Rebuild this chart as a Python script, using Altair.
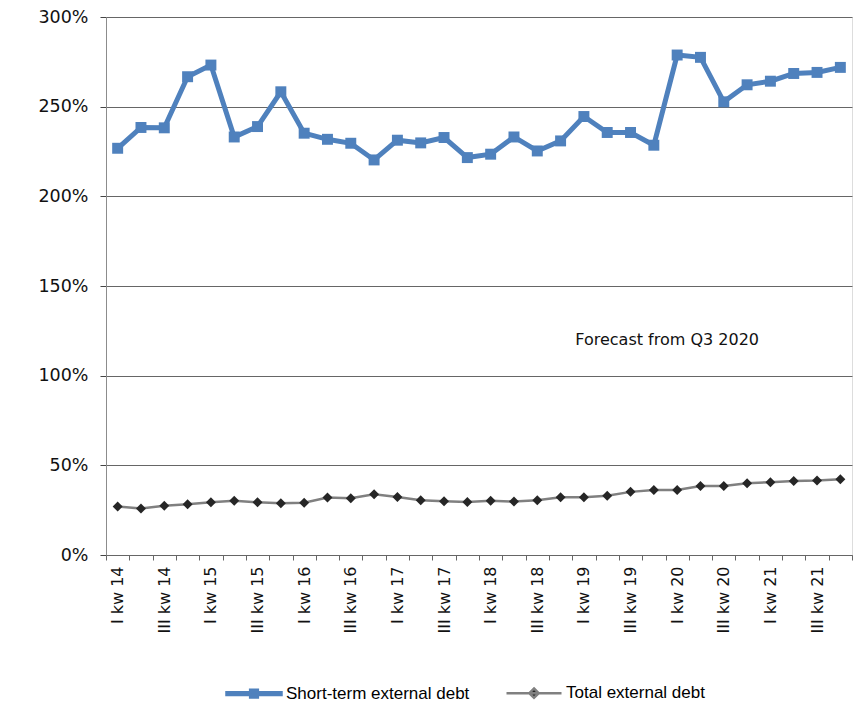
import altair as alt
import pandas as pd

quarters = [
    "I kw 14", "II kw 14", "III kw 14", "IV kw 14",
    "I kw 15", "II kw 15", "III kw 15", "IV kw 15",
    "I kw 16", "II kw 16", "III kw 16", "IV kw 16",
    "I kw 17", "II kw 17", "III kw 17", "IV kw 17",
    "I kw 18", "II kw 18", "III kw 18", "IV kw 18",
    "I kw 19", "II kw 19", "III kw 19", "IV kw 19",
    "I kw 20", "II kw 20", "III kw 20", "IV kw 20",
    "I kw 21", "II kw 21", "III kw 21", "IV kw 21",
]
short_term = [226.8, 238.4, 238.2, 266.7, 273.2, 233.1, 238.9, 258.3,
              235.2, 231.8, 229.6, 220.3, 231.3, 229.8, 232.8, 221.6,
              223.5, 233.1, 225.3, 230.9, 244.5, 235.6, 235.6, 228.5,
              278.8, 277.5, 252.7, 262.2, 264.2, 268.5, 269.1, 271.9]
total = [27.0, 25.9, 27.5, 28.3, 29.4, 30.3, 29.4, 28.9,
         29.2, 32.0, 31.7, 33.9, 32.4, 30.5, 30.0, 29.6,
         30.2, 29.8, 30.5, 32.2, 32.2, 33.0, 35.2, 36.3,
         36.3, 38.5, 38.5, 40.0, 40.6, 41.3, 41.5, 42.3]
series_names = ["Short-term external debt", "Total external debt"]
y_ticks = [0, 50, 100, 150, 200, 250, 300]
note_text = ["Forecast from Q3 2020"]
note_quarter = ["I kw 20"]
note_value = [120]

BLUE = "#4F81BD"
GRAY = "#808080"
DARK = "#262626"
FONT = "DejaVu Sans"

rows = []
for q, v in zip(quarters, short_term):
    rows.append({"quarter": q, "value": v, "series": series_names[0]})
for q, v in zip(quarters, total):
    rows.append({"quarter": q, "value": v, "series": series_names[1]})
df = pd.DataFrame(rows)
note_df = pd.DataFrame({"quarter": note_quarter, "value": note_value, "text": note_text})

x_enc = alt.X(
    "quarter:N", sort=quarters, title=None,
    scale=alt.Scale(type="band", paddingInner=0, paddingOuter=0),
    axis=alt.Axis(
        labelAngle=-90, tickBand="extent", labelOverlap=False,
        labelExpr="(split(datum.value,' ')[0]=='I' || split(datum.value,' ')[0]=='III') ? datum.value : ''",
        labelFont=FONT, labelFontSize=16, labelColor="#111",
        labelPadding=6, tickSize=5, tickColor="#666", domainColor="#666",
        grid=False,
    ),
)
y_enc = alt.Y(
    "value:Q", title=None,
    scale=alt.Scale(domain=[0, 300], nice=False, zero=True),
    axis=alt.Axis(
        values=y_ticks, labelExpr="datum.value + '%'",
        labelFont=FONT, labelFontSize=17.5, labelColor="#111",
        labelPadding=12, tickSize=6, tickColor="#444",
        domainColor="#8c8c8c", grid=True, gridColor="#666", gridWidth=1,
    ),
)

base = alt.Chart(df).encode(x=x_enc, y=y_enc)
is_st = alt.datum.series == series_names[0]
is_tot = alt.datum.series == series_names[1]

line_st = base.transform_filter(is_st).mark_line(color=BLUE, strokeWidth=5)
pts_st = base.transform_filter(is_st).mark_square(color=BLUE, size=120, opacity=1)
line_tot = base.transform_filter(is_tot).mark_line(color=GRAY, strokeWidth=2.5)
pts_tot = base.transform_filter(is_tot).mark_point(shape="diamond", filled=True, color=DARK, size=100, opacity=1)

note = alt.Chart(note_df).mark_text(
    font=FONT, fontSize=16, color="#111", align="center", baseline="middle", dx=-10
).encode(
    x=alt.X("quarter:N", sort=quarters),
    y=alt.Y("value:Q"),
    text="text:N",
)

path_st = "M-1,-0.05L1,-0.05L1,0.05L-1,0.05Z M-0.14,-0.14L0.14,-0.14L0.14,0.14L-0.14,0.14Z"
path_tot = "M-1,0L1,0 M0,-0.17L0.17,0L0,0.17L-0.17,0Z"

leg = alt.Legend(
    title=None, orient="none", legendX=119, legendY=647, direction="horizontal",
    symbolSize=3025, symbolStrokeWidth=2.5, symbolOpacity=1,
    symbolFillColor="#000", symbolStrokeColor="#000",
    labelFont="Liberation Sans", labelFontSize=17, labelColor="#000",
    labelOffset=3, columnPadding=31, padding=0, labelLimit=0,
)
legend_layer = alt.Chart(df).transform_filter("false").mark_point(filled=True, opacity=1).encode(
    shape=alt.Shape("series:N", scale=alt.Scale(domain=series_names, range=[path_st, path_tot]), legend=leg),
    fill=alt.Fill("series:N", scale=alt.Scale(domain=series_names, range=[BLUE, DARK]), legend=leg),
    stroke=alt.Stroke("series:N", scale=alt.Scale(domain=series_names, range=[BLUE, GRAY]), legend=leg),
)

chart = alt.layer(line_st, pts_st, line_tot, pts_tot, note, legend_layer).properties(
    width=746, height=538,
    padding={"left": 106, "top": 17, "right": 6, "bottom": 155},
    autosize=alt.AutoSizeParams(type="none"),
).configure_view(stroke=None).configure(background="white")

chart.save("out.html", embed_options={"renderer": "svg", "actions": False})
